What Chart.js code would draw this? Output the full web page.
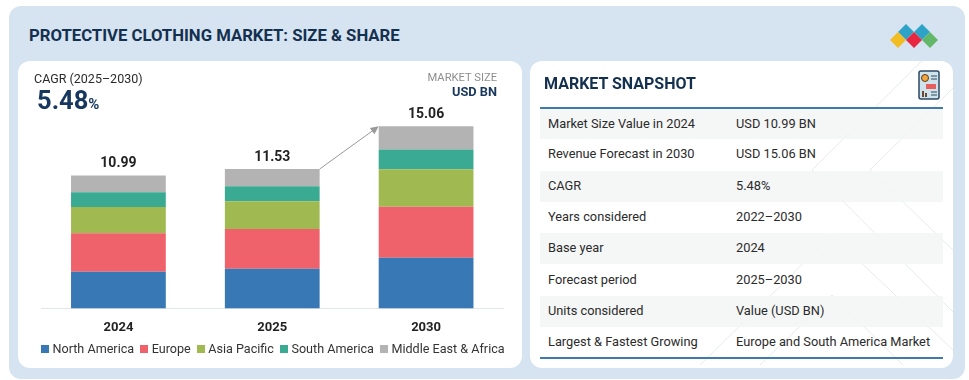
<!DOCTYPE html>
<html>
<head>
<meta charset="utf-8">
<script src="https://cdn.jsdelivr.net/npm/chart.js@4/dist/chart.umd.min.js"></script>
<style>
  html, body { margin: 0; padding: 0; background: #fff; }
  body { width: 969px; height: 380px; position: relative; overflow: hidden; font-family: Roboto, sans-serif; }
  .panel { position: absolute; left: 9px; top: 6px; width: 956px; height: 373px; background: #d6e3f0; border-radius: 12px; }
  .card { position: absolute; top: 61px; height: 307px; background: #fff; border-radius: 12px; overflow: hidden; }
  #left { left: 18px; width: 504px; }
  #right { left: 530px; width: 423px; }
  h1 { position: absolute; left: 29px; top: 26px; margin: 0; font-size: 16.7px; line-height: 20px; font-weight: 700; color: #14304f; }
  #logo { position: absolute; left: 888px; top: 20px; }
  canvas { position: absolute; left: 0; top: 0; }
  .t { position: absolute; white-space: nowrap; }
  #cagr { left: 16px; top: 10px; font-size: 12.5px; line-height: 16px; color: #2b2b2b; }
  #cagrval { left: 19px; top: 25px; font-size: 25.5px; line-height: 28px; font-weight: 700; color: #17375e; }
  #cagrval span { font-size: 15px; }
  #ms { right: 25px; top: 10px; font-size: 11.2px; line-height: 14px; color: #8e8e8e; text-align: right; }
  #ms b { display: block; font-size: 12.8px; color: #17375e; }
  #legend { position: absolute; left: 23px; top: 280px; display: flex; font-size: 12.6px; line-height: 16px; color: #333; white-space: nowrap; }
  #legend div { display: flex; align-items: center; margin-right: 6px; }
  #legend i { display: block; width: 8px; height: 8px; margin-right: 3.5px; }
  #right h2 { position: absolute; left: 14px; top: 13px; margin: 0; font-size: 16px; line-height: 20px; font-weight: 700; color: #14304f; }
  #deco { position: absolute; left: 0; top: 0; }
  #icon { position: absolute; left: 388px; top: 9px; }
  table { position: absolute; left: 10px; top: 46px; width: 403px; border-collapse: collapse; border-top: 2px solid #3f7aa8; border-bottom: 2px solid #3f7aa8; font-size: 12.8px; color: #2b2b2b; table-layout: fixed; }
  td { height: 31.3px; padding: 0 0 2px 8px; white-space: nowrap; box-sizing: border-box; }
  td:first-child { width: 188px; }
  tr:nth-child(odd) td { background: rgba(243, 244, 245, 0.85); }
</style>
</head>
<body>
<div class="panel"></div>
<h1>PROTECTIVE CLOTHING MARKET: SIZE &amp; SHARE</h1>
<svg id="logo" width="52" height="30" viewBox="0 0 52 30">
  <polygon points="18,4 26,12 18,20 10,12" fill="#2fa3c7"/>
  <polygon points="34,4 42,12 34,20 26,12" fill="#2fa3c7"/>
  <polygon points="10,12 18,20 10,28 2,20" fill="#f2bd22"/>
  <polygon points="26,12 34,20 26,28 18,20" fill="#e8263f"/>
  <polygon points="42,12 50,20 42,28 34,20" fill="#62b868"/>
</svg>
<div class="card" id="left">
  <canvas id="chart" width="504" height="307"></canvas>
  <div class="t" id="cagr">CAGR (2025–2030)</div>
  <div class="t" id="cagrval">5.48<span>%</span></div>
  <div class="t" id="ms">MARKET SIZE<b>USD BN</b></div>
  <div id="legend"></div>
</div>
<div class="card" id="right">
  <svg id="deco" width="423" height="307" fill="none" stroke="#e6eaee" stroke-width="1">
    <polyline points="423,-31 282,109 423,251"/>
    <polyline points="423,27 340,109 423,189"/>
    <polyline points="170,304 302,174 423,289"/>
    <polyline points="230,304 302,234 373,304"/>
  </svg>
  <h2>MARKET SNAPSHOT</h2>
  <svg id="icon" width="22" height="30" viewBox="0 0 22 30">
    <rect x="1" y="1" width="20" height="28" rx="2" fill="#cfe3ec" stroke="#2d4a63" stroke-width="1.5"/>
    <circle cx="7" cy="8" r="3.5" fill="#f0a63c" stroke="#5b3a20"/>
    <rect x="8" y="14" width="10" height="5" fill="#e85d5d"/>
    <rect x="4" y="21" width="2" height="6" fill="#6b4a30"/>
    <rect x="7" y="23" width="2" height="4" fill="#6b4a30"/>
    <path d="M13 6h6M13 9h6M13 22h6M13 25h6" stroke="#2d4a63"/>
  </svg>
  <table id="snapshot"></table>
</div>
<script>
const years = ['2024', '2025', '2030'];
const totals = ['10.99', '11.53', '15.06'];
const regions = ['North America', 'Europe', 'Asia Pacific', 'South America', 'Middle East & Africa'];
const northAmerica = [3.04, 3.27, 4.19];
const europe = [3.18, 3.29, 4.21];
const asiaPacific = [2.16, 2.30, 3.11];
const southAmerica = [1.23, 1.25, 1.63];
const middleEastAfrica = [1.38, 1.42, 1.92];
const regionColors = ['#3778b5', '#f0626b', '#a0b950', '#3aaa92', '#b3b3b3'];
const snapshotLabels = ['Market Size Value in 2024', 'Revenue Forecast in 2030', 'CAGR', 'Years considered', 'Base year', 'Forecast period', 'Units considered', 'Largest & Fastest Growing'];
const snapshotValues = ['USD 10.99 BN', 'USD 15.06 BN', '5.48%', '2022–2030', '2024', '2025–2030', 'Value (USD BN)', 'Europe and South America Market'];

const table = document.getElementById('snapshot');
snapshotLabels.forEach((label, i) => {
  const row = table.insertRow();
  row.insertCell().textContent = label;
  row.insertCell().textContent = snapshotValues[i];
});

const legend = document.getElementById('legend');
regions.forEach((region, i) => {
  const item = document.createElement('div');
  const box = document.createElement('i');
  box.style.background = regionColors[i];
  item.append(box, region);
  legend.append(item);
});

// totals above the stacks and the growth arrow from 2025 to 2030
const extras = {
  id: 'extras',
  afterDatasetsDraw(chart) {
    const { ctx } = chart;
    const top = chart.getDatasetMeta(regions.length - 1).data;
    ctx.save();
    ctx.font = '700 14px Roboto';
    ctx.fillStyle = '#222';
    ctx.textAlign = 'center';
    ctx.textBaseline = 'bottom';
    top.forEach((bar, i) => ctx.fillText(totals[i], bar.x, bar.y - 5));

    const x1 = top[1].x + top[1].width / 2, y1 = top[1].y;
    const x2 = top[2].x - top[2].width / 2, y2 = top[2].y;
    const a = Math.atan2(y2 - y1, x2 - x1);
    ctx.strokeStyle = ctx.fillStyle = '#999';
    ctx.lineWidth = 1;
    ctx.beginPath();
    ctx.moveTo(x1, y1);
    ctx.lineTo(x2 - 4 * Math.cos(a), y2 - 4 * Math.sin(a));
    ctx.stroke();
    ctx.beginPath();
    ctx.moveTo(x2, y2);
    ctx.lineTo(x2 - 9 * Math.cos(a - 0.45), y2 - 9 * Math.sin(a - 0.45));
    ctx.lineTo(x2 - 9 * Math.cos(a + 0.45), y2 - 9 * Math.sin(a + 0.45));
    ctx.closePath();
    ctx.fill();
    ctx.restore();
  }
};

new Chart(document.getElementById('chart').getContext('2d'), {
  type: 'bar',
  data: {
    labels: years,
    datasets: [northAmerica, europe, asiaPacific, southAmerica, middleEastAfrica].map((values, i) => ({
      label: regions[i],
      data: values,
      backgroundColor: regionColors[i],
      categoryPercentage: 0.8,
      barPercentage: 0.77
    }))
  },
  options: {
    responsive: false,
    animation: false,
    layout: { padding: { left: 23.5, right: 19, top: 54, bottom: 28 } },
    scales: {
      x: {
        stacked: true,
        grid: { display: false },
        border: { color: '#e3e6ea' },
        ticks: { color: '#222', font: { family: 'Roboto', size: 13, weight: '700' }, padding: 4 }
      },
      y: { stacked: true, display: false, min: 0, max: 16 }
    },
    plugins: {
      tooltip: { enabled: false },
      legend: { display: false }
    }
  },
  plugins: [extras]
});
</script>
</body>
</html>
